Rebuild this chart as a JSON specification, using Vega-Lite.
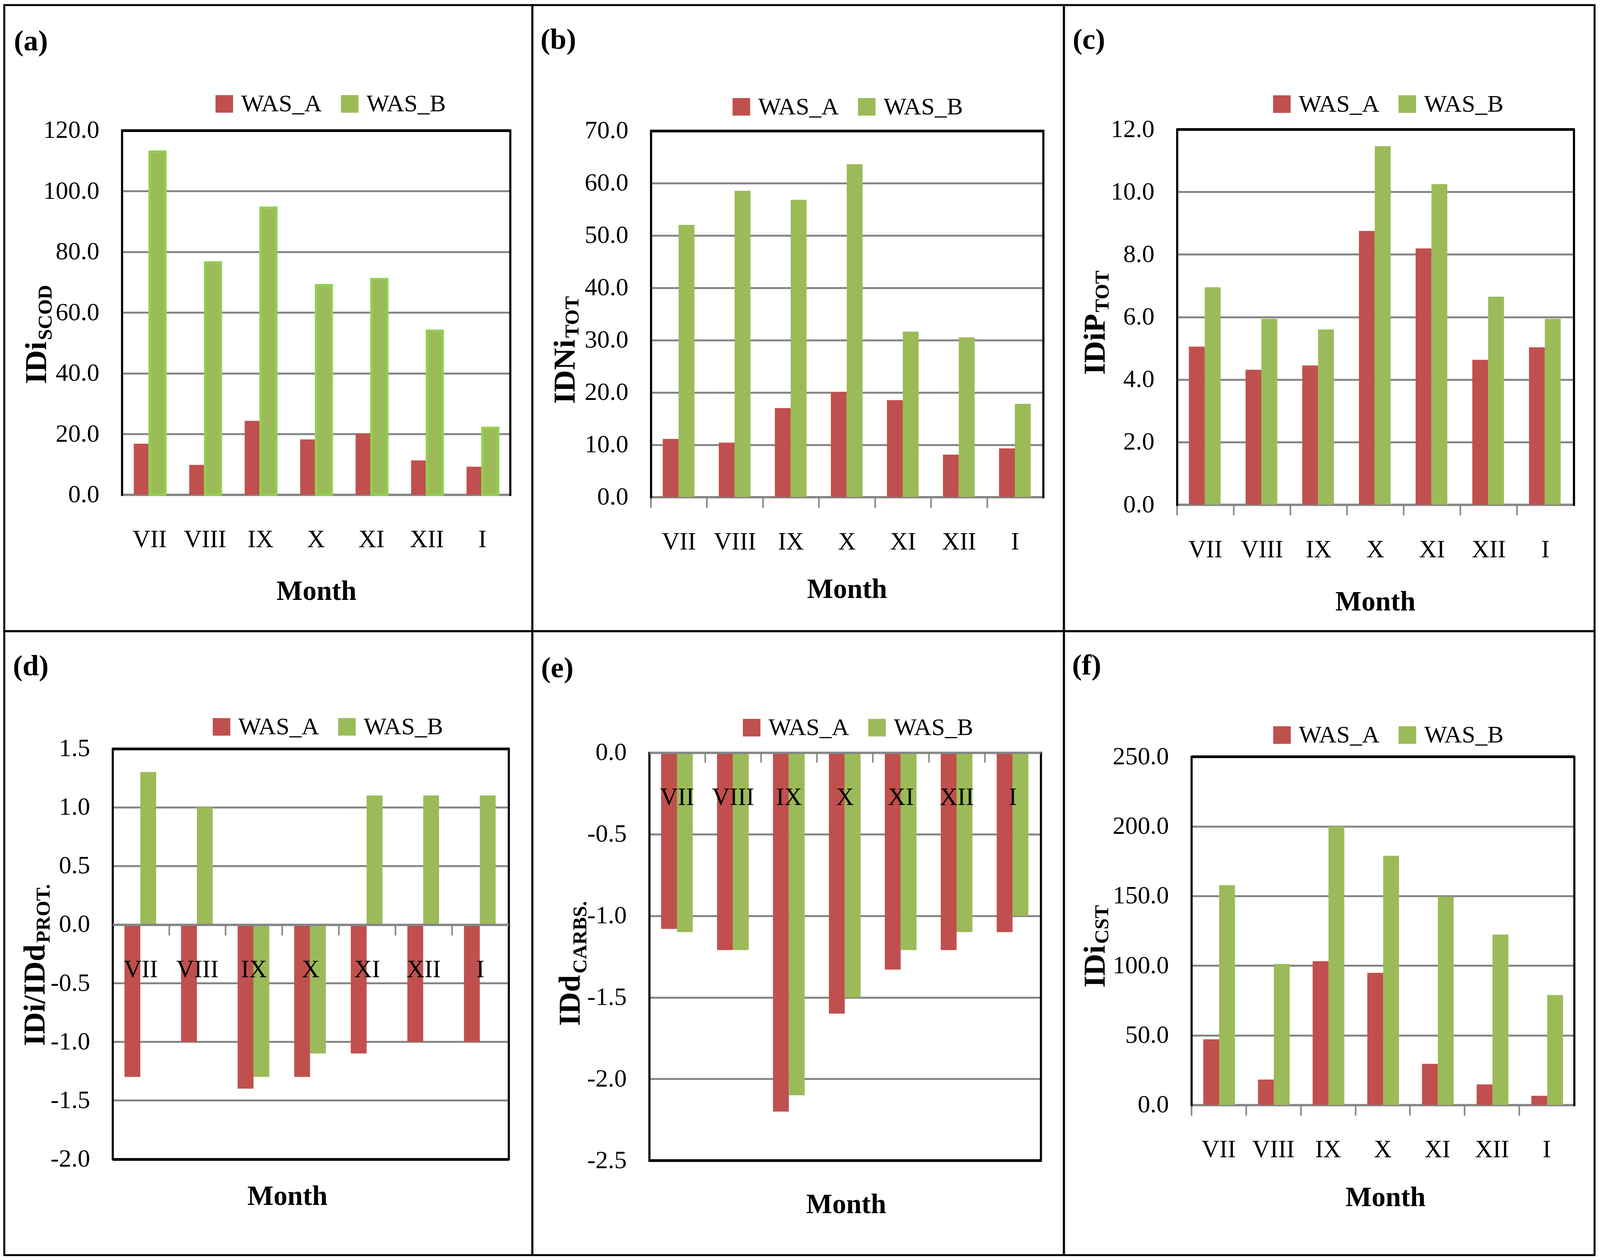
{
"$schema": "https://vega.github.io/schema/vega-lite/v6.json",
"padding": {"left": 7.9, "top": 10, "right": 0, "bottom": 0},
"background": "white",
"columns": 3,
"spacing": 0,
"bounds": "flush",
"resolve": {"scale": {"color": "independent"}, "legend": {"color": "independent"}},
"config": {
  "view": {"stroke": "black", "strokeWidth": 5},
  "font": "Liberation Serif",
  "axis": {"labelFont": "Liberation Serif", "titleFont": "Liberation Serif", "labelColor": "black", "titleColor": "black", "titleFontWeight": "bold"},
  "legend": {"labelFont": "Liberation Serif", "labelColor": "black", "labelLimit": 0},
  "locale": {"number": {"decimal": ".", "thousands": ",", "grouping": [3], "currency": ["$", ""], "minus": "-"}}
},
"datasets": {
  "a": [
    {"month": "VII", "series": "WAS_A", "value": 16.8}, {"month": "VII", "series": "WAS_B", "value": 113.0},
    {"month": "VIII", "series": "WAS_A", "value": 9.8}, {"month": "VIII", "series": "WAS_B", "value": 76.5},
    {"month": "IX", "series": "WAS_A", "value": 24.3}, {"month": "IX", "series": "WAS_B", "value": 94.5},
    {"month": "X", "series": "WAS_A", "value": 18.2}, {"month": "X", "series": "WAS_B", "value": 69.0},
    {"month": "XI", "series": "WAS_A", "value": 20.1}, {"month": "XI", "series": "WAS_B", "value": 71.0},
    {"month": "XII", "series": "WAS_A", "value": 11.3}, {"month": "XII", "series": "WAS_B", "value": 54.0},
    {"month": "I", "series": "WAS_A", "value": 9.2}, {"month": "I", "series": "WAS_B", "value": 22.0}
  ],
  "b": [
    {"month": "VII", "series": "WAS_A", "value": 11.1}, {"month": "VII", "series": "WAS_B", "value": 52.0},
    {"month": "VIII", "series": "WAS_A", "value": 10.4}, {"month": "VIII", "series": "WAS_B", "value": 58.5},
    {"month": "IX", "series": "WAS_A", "value": 17.0}, {"month": "IX", "series": "WAS_B", "value": 56.8},
    {"month": "X", "series": "WAS_A", "value": 20.1}, {"month": "X", "series": "WAS_B", "value": 63.6},
    {"month": "XI", "series": "WAS_A", "value": 18.5}, {"month": "XI", "series": "WAS_B", "value": 31.6},
    {"month": "XII", "series": "WAS_A", "value": 8.1}, {"month": "XII", "series": "WAS_B", "value": 30.5},
    {"month": "I", "series": "WAS_A", "value": 9.3}, {"month": "I", "series": "WAS_B", "value": 17.8}
  ],
  "c": [
    {"month": "VII", "series": "WAS_A", "value": 5.05}, {"month": "VII", "series": "WAS_B", "value": 6.95},
    {"month": "VIII", "series": "WAS_A", "value": 4.31}, {"month": "VIII", "series": "WAS_B", "value": 5.94},
    {"month": "IX", "series": "WAS_A", "value": 4.45}, {"month": "IX", "series": "WAS_B", "value": 5.6},
    {"month": "X", "series": "WAS_A", "value": 8.75}, {"month": "X", "series": "WAS_B", "value": 11.46},
    {"month": "XI", "series": "WAS_A", "value": 8.19}, {"month": "XI", "series": "WAS_B", "value": 10.25},
    {"month": "XII", "series": "WAS_A", "value": 4.63}, {"month": "XII", "series": "WAS_B", "value": 6.65},
    {"month": "I", "series": "WAS_A", "value": 5.03}, {"month": "I", "series": "WAS_B", "value": 5.94}
  ],
  "d": [
    {"month": "VII", "series": "WAS_A", "value": -1.3}, {"month": "VII", "series": "WAS_B", "value": 1.3},
    {"month": "VIII", "series": "WAS_A", "value": -1.0}, {"month": "VIII", "series": "WAS_B", "value": 1.0},
    {"month": "IX", "series": "WAS_A", "value": -1.4}, {"month": "IX", "series": "WAS_B", "value": -1.3},
    {"month": "X", "series": "WAS_A", "value": -1.3}, {"month": "X", "series": "WAS_B", "value": -1.1},
    {"month": "XI", "series": "WAS_A", "value": -1.1}, {"month": "XI", "series": "WAS_B", "value": 1.1},
    {"month": "XII", "series": "WAS_A", "value": -1.0}, {"month": "XII", "series": "WAS_B", "value": 1.1},
    {"month": "I", "series": "WAS_A", "value": -1.0}, {"month": "I", "series": "WAS_B", "value": 1.1}
  ],
  "e": [
    {"month": "VII", "series": "WAS_A", "value": -1.08}, {"month": "VII", "series": "WAS_B", "value": -1.1},
    {"month": "VIII", "series": "WAS_A", "value": -1.21}, {"month": "VIII", "series": "WAS_B", "value": -1.21},
    {"month": "IX", "series": "WAS_A", "value": -2.2}, {"month": "IX", "series": "WAS_B", "value": -2.1},
    {"month": "X", "series": "WAS_A", "value": -1.6}, {"month": "X", "series": "WAS_B", "value": -1.5},
    {"month": "XI", "series": "WAS_A", "value": -1.33}, {"month": "XI", "series": "WAS_B", "value": -1.21},
    {"month": "XII", "series": "WAS_A", "value": -1.21}, {"month": "XII", "series": "WAS_B", "value": -1.1},
    {"month": "I", "series": "WAS_A", "value": -1.1}, {"month": "I", "series": "WAS_B", "value": -1.0}
  ],
  "f": [
    {"month": "VII", "series": "WAS_A", "value": 47.1}, {"month": "VII", "series": "WAS_B", "value": 157.8},
    {"month": "VIII", "series": "WAS_A", "value": 18.2}, {"month": "VIII", "series": "WAS_B", "value": 101.2},
    {"month": "IX", "series": "WAS_A", "value": 103.2}, {"month": "IX", "series": "WAS_B", "value": 200.0},
    {"month": "X", "series": "WAS_A", "value": 94.8}, {"month": "X", "series": "WAS_B", "value": 178.9},
    {"month": "XI", "series": "WAS_A", "value": 29.5}, {"month": "XI", "series": "WAS_B", "value": 149.4},
    {"month": "XII", "series": "WAS_A", "value": 14.7}, {"month": "XII", "series": "WAS_B", "value": 122.3},
    {"month": "I", "series": "WAS_A", "value": 6.6}, {"month": "I", "series": "WAS_B", "value": 78.9}
  ]
},
"concat": [
{
  "width": 1351.8, "height": 1603,
  "data": {"name": "a"},
  "layer": [
    {
      "mark": {"type": "bar", "strokeWidth": 6},
      "encoding": {
        "x": {"field": "month", "type": "nominal", "sort": ["VII","VIII","IX","X","XI","XII","I"], "scale": {"range": [301.1, 1295.0], "paddingInner": 0, "paddingOuter": 0},
          "axis": {"orient": "bottom", "offset": -349.5, "ticks": false, "labelAngle": 0, "labelPadding": 134, "labelBaseline": "alphabetic", "labelFontSize": 63, "domainColor": "#868686", "domainWidth": 6, "grid": false, "title": "Month", "titleFontSize": 71, "titleX": 798.8, "titleY": 269, "titleBaseline": "alphabetic", "titleAlign": "center"}},
        "xOffset": {"field": "series", "type": "nominal", "scale": {"paddingInner": 0, "paddingOuter": 0.75}},
        "y": {"field": "value", "type": "quantitative", "stack": null, "scale": {"domain": [0, 120], "range": [1253.5, 320.5], "nice": false},
          "axis": {"orient": "left", "offset": -301.1, "values": [0, 20, 40, 60, 80, 100, 120], "format": ".1f", "ticks": false, "labelPadding": 58, "labelFontSize": 64, "domainColor": "black", "domainWidth": 5.5, "domainCap": "square", "grid": true,
            "gridColor": {"condition": {"test": "datum.value === 120", "value": "black"}, "value": "#868686"},
            "gridWidth": {"condition": {"test": "datum.value === 120", "value": 7}, "value": 5},
            "title": "IDi", "titleFontSize": 78, "titleAngle": -90, "titleAlign": "left", "titleBaseline": "alphabetic", "titleX": -194.0, "titleY": 969.5}},
        "color": {"field": "series", "type": "nominal", "scale": {"domain": ["WAS_A", "WAS_B"], "range": ["#C0504D", "#9BBB59"]},
          "legend": {"orient": "none", "legendX": 532.3, "legendY": 222, "direction": "horizontal", "title": null, "symbolType": "square", "symbolSize": 2025, "symbolStrokeWidth": 0, "labelFontSize": 62, "labelOffset": 12, "columnPadding": 40, "padding": 0,
            "encode": {"symbols": {"update": {"stroke": {"signal": "datum.value === 'WAS_B' ? '#92D050' : 'transparent'"}, "strokeWidth": {"value": 6}}}}}},
        "stroke": {"condition": {"test": "datum.series === 'WAS_B'", "value": "#92D050"}, "value": "transparent"}
      }
    },
    {
      "mark": {"type": "bar", "opacity": 0},
      "encoding": {
        "x": {"field": "month", "type": "nominal", "sort": ["VII","VIII","IX","X","XI","XII","I"], "scale": {"range": [301.1, 1295.0], "paddingInner": 0, "paddingOuter": 0},
          "axis": {"orient": "bottom", "offset": -349.5, "labels": false, "ticks": false, "domain": false, "grid": false,
            "title": "(a)", "titleFontSize": 75, "titleX": 24, "titleY": -1138, "titleAlign": "left", "titleBaseline": "alphabetic"}},
        "y": {"field": "value", "type": "quantitative", "stack": null, "scale": {"domain": [0, 120], "range": [1253.5, 320.5], "nice": false},
          "axis": {"orient": "right", "offset": -56.8, "labels": false, "ticks": false, "grid": false, "domainColor": "black", "domainWidth": 5.5, "domainCap": "square",
            "title": "SCOD", "titleFontSize": 51, "titleAngle": -90, "titleAlign": "left", "titleBaseline": "alphabetic", "titleX": -1174.5, "titleY": 857.5}}
      }
    }
  ],
  "resolve": {"axis": {"x": "independent", "y": "independent"}}
},
{
  "width": 1360.4, "height": 1603,
  "data": {"name": "b"},
  "layer": [
    {
      "mark": {"type": "bar"},
      "encoding": {
        "x": {"field": "month", "type": "nominal", "sort": ["VII","VIII","IX","X","XI","XII","I"], "scale": {"range": [303.3, 1307.6], "paddingInner": 0, "paddingOuter": 0},
          "axis": {"orient": "bottom", "offset": -343.5, "ticks": false, "labelAngle": 0, "labelPadding": 134, "labelBaseline": "alphabetic", "labelFontSize": 63, "domainColor": "#868686", "domainWidth": 6, "grid": false, "title": "Month", "titleFontSize": 71, "titleX": 805.1, "titleY": 258, "titleBaseline": "alphabetic", "titleAlign": "center"}},
        "xOffset": {"field": "series", "type": "nominal", "scale": {"paddingInner": 0, "paddingOuter": 0.75}},
        "y": {"field": "value", "type": "quantitative", "stack": null, "scale": {"domain": [0, 70], "range": [1259.5, 321.5], "nice": false},
          "axis": {"orient": "left", "offset": -303.3, "values": [0, 10, 20, 30, 40, 50, 60, 70], "format": ".1f", "ticks": false, "labelPadding": 58, "labelFontSize": 64, "domainColor": "black", "domainWidth": 5.5, "domainCap": "square", "grid": true,
            "gridColor": {"condition": {"test": "datum.value === 70", "value": "black"}, "value": "#868686"},
            "gridWidth": {"condition": {"test": "datum.value === 70", "value": 7}, "value": 5},
            "title": "IDNi", "titleFontSize": 78, "titleAngle": -90, "titleAlign": "left", "titleBaseline": "alphabetic", "titleX": -195.9, "titleY": 1020.5}},
        "color": {"field": "series", "type": "nominal", "scale": {"domain": ["WAS_A", "WAS_B"], "range": ["#C0504D", "#9BBB59"]},
          "legend": {"orient": "none", "legendX": 504.0, "legendY": 229.5, "direction": "horizontal", "title": null, "symbolType": "square", "symbolSize": 2025, "symbolStrokeWidth": 0, "labelFontSize": 62, "labelOffset": 12, "columnPadding": 40, "padding": 0}}
      }
    },
    {
      "mark": {"type": "bar", "opacity": 0},
      "encoding": {
        "x": {"field": "month", "type": "nominal", "sort": ["VII","VIII","IX","X","XI","XII","I"], "scale": {"range": [303.3, 1307.6], "paddingInner": 0, "paddingOuter": 0},
          "axis": {"orient": "bottom", "offset": -343.5, "bandPosition": 0, "labels": false, "domain": false, "grid": false, "ticks": true, "tickSize": 27, "tickWidth": 4, "tickColor": "#868686",
            "title": "(b)", "titleFontSize": 75, "titleX": 20, "titleY": -1148, "titleAlign": "left", "titleBaseline": "alphabetic"}},
        "y": {"field": "value", "type": "quantitative", "stack": null, "scale": {"domain": [0, 70], "range": [1259.5, 321.5], "nice": false},
          "axis": {"orient": "right", "offset": -52.8, "labels": false, "ticks": false, "grid": false, "domainColor": "black", "domainWidth": 5.5, "domainCap": "square",
            "title": "TOT", "titleFontSize": 51, "titleAngle": -90, "titleAlign": "left", "titleBaseline": "alphabetic", "titleX": -1190.2, "titleY": 851.5}}
      }
    }
  ],
  "resolve": {"axis": {"x": "independent", "y": "independent"}}
},
{
  "width": 1358.2, "height": 1603,
  "data": {"name": "c"},
  "layer": [
    {
      "mark": {"type": "bar"},
      "encoding": {
        "x": {"field": "month", "type": "nominal", "sort": ["VII","VIII","IX","X","XI","XII","I"], "scale": {"range": [289.2, 1305.0], "paddingInner": 0, "paddingOuter": 0},
          "axis": {"orient": "bottom", "offset": -324, "ticks": false, "labelAngle": 0, "labelPadding": 134, "labelBaseline": "alphabetic", "labelFontSize": 63, "domainColor": "#868686", "domainWidth": 6, "grid": false, "title": "Month", "titleFontSize": 71, "titleX": 796.7, "titleY": 270.5, "titleBaseline": "alphabetic", "titleAlign": "center"}},
        "xOffset": {"field": "series", "type": "nominal", "scale": {"paddingInner": 0, "paddingOuter": 0.75}},
        "y": {"field": "value", "type": "quantitative", "stack": null, "scale": {"domain": [0, 12], "range": [1279, 318], "nice": false},
          "axis": {"orient": "left", "offset": -289.2, "values": [0, 2, 4, 6, 8, 10, 12], "format": ".1f", "ticks": false, "labelPadding": 58, "labelFontSize": 64, "domainColor": "black", "domainWidth": 5.5, "domainCap": "square", "grid": true,
            "gridColor": {"condition": {"test": "datum.value === 12", "value": "black"}, "value": "#868686"},
            "gridWidth": {"condition": {"test": "datum.value === 12", "value": 7}, "value": 5},
            "title": "IDiP", "titleFontSize": 78, "titleAngle": -90, "titleAlign": "left", "titleBaseline": "alphabetic", "titleX": -185.8, "titleY": 946}},
        "color": {"field": "series", "type": "nominal", "scale": {"domain": ["WAS_A", "WAS_B"], "range": ["#C0504D", "#9BBB59"]},
          "legend": {"orient": "none", "legendX": 526.7, "legendY": 222.5, "direction": "horizontal", "title": null, "symbolType": "square", "symbolSize": 2025, "symbolStrokeWidth": 0, "labelFontSize": 62, "labelOffset": 12, "columnPadding": 40, "padding": 0}}
      }
    },
    {
      "mark": {"type": "bar", "opacity": 0},
      "encoding": {
        "x": {"field": "month", "type": "nominal", "sort": ["VII","VIII","IX","X","XI","XII","I"], "scale": {"range": [289.2, 1305.0], "paddingInner": 0, "paddingOuter": 0},
          "axis": {"orient": "bottom", "offset": -324, "bandPosition": 0, "labels": false, "domain": false, "grid": false, "ticks": true, "tickSize": 27, "tickWidth": 4, "tickColor": "#868686",
            "title": "(c)", "titleFontSize": 75, "titleX": 21.5, "titleY": -1167.5, "titleAlign": "left", "titleBaseline": "alphabetic"}},
        "y": {"field": "value", "type": "quantitative", "stack": null, "scale": {"domain": [0, 12], "range": [1279, 318], "nice": false},
          "axis": {"orient": "right", "offset": -53.2, "labels": false, "ticks": false, "grid": false, "domainColor": "black", "domainWidth": 5.5, "domainCap": "square",
            "title": "TOT", "titleFontSize": 51, "titleAngle": -90, "titleAlign": "left", "titleBaseline": "alphabetic", "titleX": -1191.3, "titleY": 786}}
      }
    }
  ],
  "resolve": {"axis": {"x": "independent", "y": "independent"}}
},
{
  "width": 1351.8, "height": 1597.5,
  "data": {"name": "d"},
  "layer": [
    {
      "mark": {"type": "bar"},
      "encoding": {
        "x": {"field": "month", "type": "nominal", "sort": ["VII","VIII","IX","X","XI","XII","I"], "scale": {"range": [277.3, 1291.2], "paddingInner": 0, "paddingOuter": 0},
          "axis": {"orient": "bottom", "offset": -846, "zindex": 1, "ticks": false, "labelAngle": 0, "labelPadding": 134, "labelBaseline": "alphabetic", "labelFontSize": 63, "domainColor": "#868686", "domainWidth": 6, "grid": false, "title": "Month", "titleFontSize": 71, "titleX": 724.5, "titleY": 717, "titleBaseline": "alphabetic", "titleAlign": "center"}},
        "xOffset": {"field": "series", "type": "nominal", "scale": {"paddingInner": 0, "paddingOuter": 0.75}},
        "y": {"field": "value", "type": "quantitative", "stack": null, "scale": {"domain": [-2, 1.5], "range": [1351.5, 300.5], "nice": false},
          "axis": {"orient": "left", "offset": -277.3, "values": [-2, -1.5, -1, -0.5, 0, 0.5, 1, 1.5], "format": ".1f", "ticks": false, "labelPadding": 58, "labelFontSize": 64, "domainColor": "black", "domainWidth": 5.5, "domainCap": "square", "grid": true,
            "gridColor": {"condition": {"test": "datum.value === 1.5 || datum.value === -2", "value": "black"}, "value": "#868686"},
            "gridWidth": {"condition": {"test": "datum.value === 1.5 || datum.value === -2", "value": 7}, "value": 5},
            "title": "IDi/IDd", "titleFontSize": 78, "titleAngle": -90, "titleAlign": "left", "titleBaseline": "alphabetic", "titleX": -174.3, "titleY": 1061.5}},
        "color": {"field": "series", "type": "nominal", "scale": {"domain": ["WAS_A", "WAS_B"], "range": ["#C0504D", "#9BBB59"]},
          "legend": {"orient": "none", "legendX": 525.2, "legendY": 214, "direction": "horizontal", "title": null, "symbolType": "square", "symbolSize": 2025, "symbolStrokeWidth": 0, "labelFontSize": 62, "labelOffset": 12, "columnPadding": 40, "padding": 0}}
      }
    },
    {
      "mark": {"type": "bar", "opacity": 0},
      "encoding": {
        "x": {"field": "month", "type": "nominal", "sort": ["VII","VIII","IX","X","XI","XII","I"], "scale": {"range": [277.3, 1291.2], "paddingInner": 0, "paddingOuter": 0},
          "axis": {"orient": "bottom", "offset": -846, "bandPosition": 0, "labels": false, "domain": false, "grid": false, "ticks": true, "tickSize": 27, "tickWidth": 4, "tickColor": "#868686",
            "title": "(d)", "titleFontSize": 75, "titleX": 21.5, "titleY": -638.5, "titleAlign": "left", "titleBaseline": "alphabetic"}},
        "y": {"field": "value", "type": "quantitative", "stack": null, "scale": {"domain": [-2, 1.5], "range": [1351.5, 300.5], "nice": false},
          "axis": {"orient": "right", "offset": -60.6, "labels": false, "ticks": false, "grid": false, "domainColor": "black", "domainWidth": 5.5, "domainCap": "square",
            "title": "PROT.", "titleFontSize": 51, "titleAngle": -90, "titleAlign": "left", "titleBaseline": "alphabetic", "titleX": -1175.3, "titleY": 797.5}}
      }
    }
  ],
  "resolve": {"axis": {"x": "independent", "y": "independent"}}
},
{
  "width": 1360.4, "height": 1597.5,
  "data": {"name": "e"},
  "layer": [
    {
      "mark": {"type": "bar"},
      "encoding": {
        "x": {"field": "month", "type": "nominal", "sort": ["VII","VIII","IX","X","XI","XII","I"], "scale": {"range": [299.1, 1301.4], "paddingInner": 0, "paddingOuter": 0},
          "axis": {"orient": "bottom", "offset": -1286.5, "zindex": 1, "ticks": false, "labelAngle": 0, "labelPadding": 134, "labelBaseline": "alphabetic", "labelFontSize": 63, "domainColor": "#868686", "domainWidth": 6, "grid": false, "title": "Month", "titleFontSize": 71, "titleX": 802.8, "titleY": 1178.5, "titleBaseline": "alphabetic", "titleAlign": "center"}},
        "xOffset": {"field": "series", "type": "nominal", "scale": {"paddingInner": 0, "paddingOuter": 0.75}},
        "y": {"field": "value", "type": "quantitative", "stack": null, "scale": {"domain": [-2.5, 0], "range": [1355.3, 311], "nice": false},
          "axis": {"orient": "left", "offset": -299.1, "values": [-2.5, -2, -1.5, -1, -0.5, 0], "format": ".1f", "ticks": false, "labelPadding": 58, "labelFontSize": 64, "domainColor": "black", "domainWidth": 5.5, "domainCap": "square", "grid": true,
            "gridColor": {"condition": {"test": "datum.value === -2.5", "value": "black"}, "value": "#868686"},
            "gridWidth": {"condition": {"test": "datum.value === -2.5", "value": 7}, "value": 5},
            "title": "IDd", "titleFontSize": 78, "titleAngle": -90, "titleAlign": "left", "titleBaseline": "alphabetic", "titleX": -178.6, "titleY": 1010}},
        "color": {"field": "series", "type": "nominal", "scale": {"domain": ["WAS_A", "WAS_B"], "range": ["#C0504D", "#9BBB59"]},
          "legend": {"orient": "none", "legendX": 530.3, "legendY": 216, "direction": "horizontal", "title": null, "symbolType": "square", "symbolSize": 2025, "symbolStrokeWidth": 0, "labelFontSize": 62, "labelOffset": 12, "columnPadding": 40, "padding": 0}}
      }
    },
    {
      "mark": {"type": "bar", "opacity": 0},
      "encoding": {
        "x": {"field": "month", "type": "nominal", "sort": ["VII","VIII","IX","X","XI","XII","I"], "scale": {"range": [299.1, 1301.4], "paddingInner": 0, "paddingOuter": 0},
          "axis": {"orient": "bottom", "offset": -1286.5, "bandPosition": 0, "labels": false, "domain": false, "grid": false, "ticks": true, "tickSize": 25, "tickWidth": 4, "tickColor": "#868686",
            "title": "(e)", "titleFontSize": 75, "titleX": 21.5, "titleY": -193, "titleAlign": "left", "titleBaseline": "alphabetic"}},
        "y": {"field": "value", "type": "quantitative", "stack": null, "scale": {"domain": [-2.5, 0], "range": [1355.3, 311], "nice": false},
          "axis": {"orient": "right", "offset": -59.0, "labels": false, "ticks": false, "grid": false, "domainColor": "black", "domainWidth": 5.5, "domainCap": "square",
            "title": "CARBS.", "titleFontSize": 51, "titleAngle": -90, "titleAlign": "left", "titleBaseline": "alphabetic", "titleX": -1163.8, "titleY": 876}}
      }
    }
  ],
  "resolve": {"axis": {"x": "independent", "y": "independent"}}
},
{
  "width": 1358.2, "height": 1597.5,
  "data": {"name": "f"},
  "layer": [
    {
      "mark": {"type": "bar"},
      "encoding": {
        "x": {"field": "month", "type": "nominal", "sort": ["VII","VIII","IX","X","XI","XII","I"], "scale": {"range": [326.1, 1305.9], "paddingInner": 0, "paddingOuter": 0},
          "axis": {"orient": "bottom", "offset": -384.5, "ticks": false, "labelAngle": 0, "labelPadding": 134, "labelBaseline": "alphabetic", "labelFontSize": 63, "domainColor": "#868686", "domainWidth": 6, "grid": false, "title": "Month", "titleFontSize": 71, "titleX": 822.6, "titleY": 258.5, "titleBaseline": "alphabetic", "titleAlign": "center"}},
        "xOffset": {"field": "series", "type": "nominal", "scale": {"paddingInner": 0, "paddingOuter": 0.75}},
        "y": {"field": "value", "type": "quantitative", "stack": null, "scale": {"domain": [0, 250], "range": [1213, 321.3], "nice": false},
          "axis": {"orient": "left", "offset": -326.1, "values": [0, 50, 100, 150, 200, 250], "format": ".1f", "ticks": false, "labelPadding": 58, "labelFontSize": 64, "domainColor": "black", "domainWidth": 5.5, "domainCap": "square", "grid": true,
            "gridColor": {"condition": {"test": "datum.value === 250", "value": "black"}, "value": "#868686"},
            "gridWidth": {"condition": {"test": "datum.value === 250", "value": 7}, "value": 5},
            "title": "IDi", "titleFontSize": 78, "titleAngle": -90, "titleAlign": "left", "titleBaseline": "alphabetic", "titleX": -222.8, "titleY": 912}},
        "color": {"field": "series", "type": "nominal", "scale": {"domain": ["WAS_A", "WAS_B"], "range": ["#C0504D", "#9BBB59"]},
          "legend": {"orient": "none", "legendX": 527.0, "legendY": 235, "direction": "horizontal", "title": null, "symbolType": "square", "symbolSize": 2025, "symbolStrokeWidth": 0, "labelFontSize": 62, "labelOffset": 12, "columnPadding": 40, "padding": 0}}
      }
    },
    {
      "mark": {"type": "bar", "opacity": 0},
      "encoding": {
        "x": {"field": "month", "type": "nominal", "sort": ["VII","VIII","IX","X","XI","XII","I"], "scale": {"range": [326.1, 1305.9], "paddingInner": 0, "paddingOuter": 0},
          "axis": {"orient": "bottom", "offset": -384.5, "bandPosition": 0, "labels": false, "domain": false, "grid": false, "ticks": true, "tickSize": 27, "tickWidth": 4, "tickColor": "#868686",
            "title": "(f)", "titleFontSize": 75, "titleX": 20, "titleY": -1102, "titleAlign": "left", "titleBaseline": "alphabetic"}},
        "y": {"field": "value", "type": "quantitative", "stack": null, "scale": {"domain": [0, 250], "range": [1213, 321.3], "nice": false},
          "axis": {"orient": "right", "offset": -52.3, "labels": false, "ticks": false, "grid": false, "domainColor": "black", "domainWidth": 5.5, "domainCap": "square",
            "title": "CST", "titleFontSize": 51, "titleAngle": -90, "titleAlign": "left", "titleBaseline": "alphabetic", "titleX": -1193.6, "titleY": 800}}
      }
    }
  ],
  "resolve": {"axis": {"x": "independent", "y": "independent"}}
}
]
}
